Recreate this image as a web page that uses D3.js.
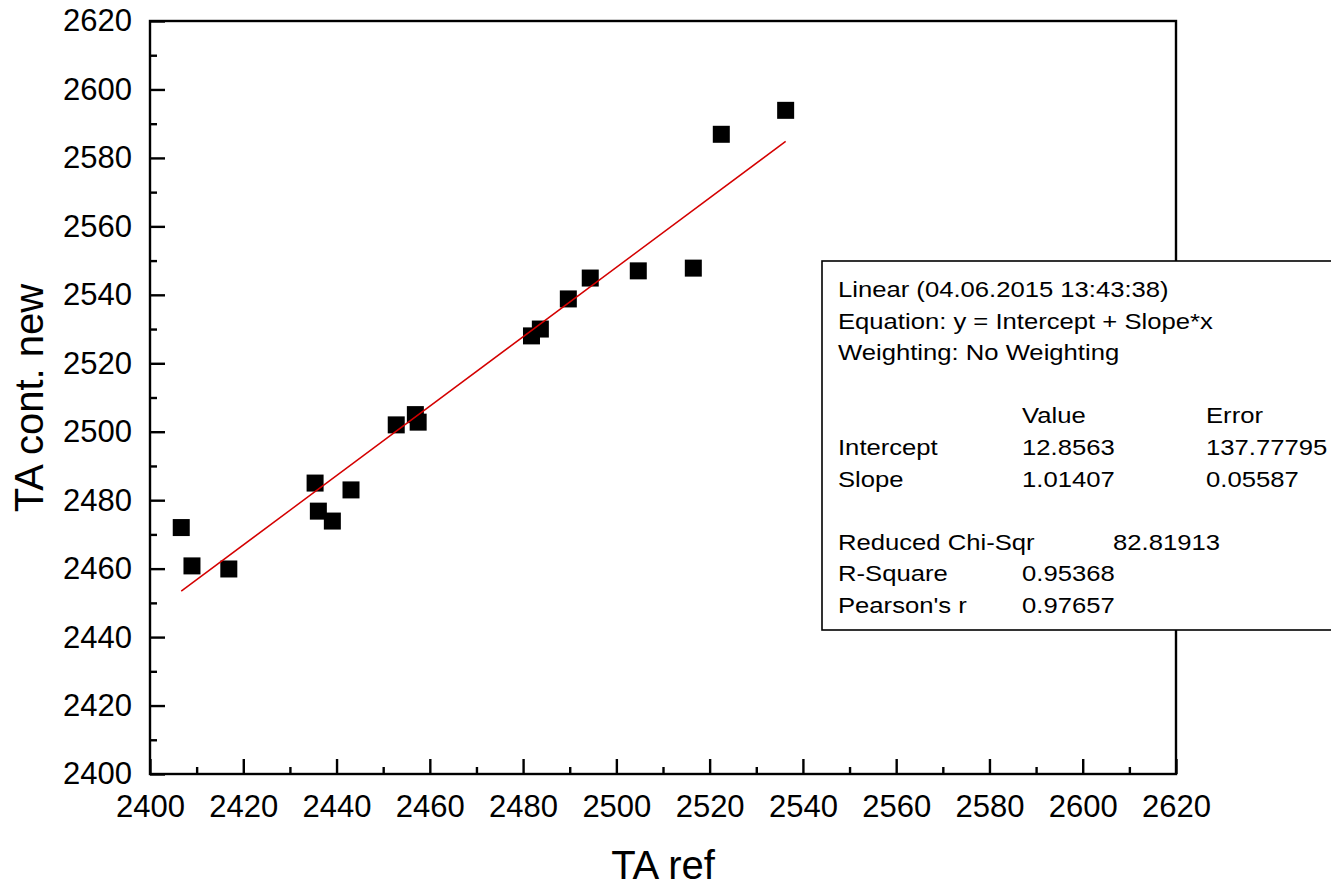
<!DOCTYPE html>
<html>
<head>
<meta charset="utf-8">
<script src="https://cdn.jsdelivr.net/npm/d3@7"></script>
<style>
  body { margin: 0; background: #fff; }
  svg text { font-family: Arial, "Liberation Sans", sans-serif; fill: #000; }
</style>
</head>
<body>
<div id="chart"></div>
<script>
// measured points (TA ref vs TA cont. new)
var taRef = [2406.7, 2409.0, 2416.9, 2435.4, 2436.1, 2439.1, 2443.1, 2452.8, 2456.9, 2457.5,
             2481.8, 2483.7, 2489.7, 2494.4, 2504.7, 2516.5, 2522.5, 2536.3];
var taContNew = [2472.0, 2460.8, 2459.9, 2485.0, 2476.8, 2473.9, 2483.0, 2502.0, 2505.0, 2502.8,
                 2528.0, 2530.0, 2538.8, 2544.9, 2547.0, 2547.8, 2586.9, 2593.9];

var xMajor = [2400, 2420, 2440, 2460, 2480, 2500, 2520, 2540, 2560, 2580, 2600, 2620];
var yMajor = [2400, 2420, 2440, 2460, 2480, 2500, 2520, 2540, 2560, 2580, 2600, 2620];
var xMinor = [2410, 2430, 2450, 2470, 2490, 2510, 2530, 2550, 2570, 2590, 2610];
var yMinor = [2410, 2430, 2450, 2470, 2490, 2510, 2530, 2550, 2570, 2590, 2610];

var fitIntercept = 12.8563, fitSlope = 1.01407;

// fit report rows: [label, value, error]
var reportHead = ["Linear (04.06.2015 13:43:38)", "Equation: y = Intercept + Slope*x", "Weighting: No Weighting"];
var reportRows = [["", "Value", "Error"], ["Intercept", "12.8563", "137.77795"], ["Slope", "1.01407", "0.05587"]];
var reportStats = [["Reduced Chi-Sqr", "", "82.81913"], ["R-Square", "0.95368", ""], ["Pearson's r", "0.97657", ""]];

var W = 1331, H = 883;
var plotL = 150, plotR = 1176, plotT = 21, plotB = 774;

var svg = d3.select("#chart").append("svg")
  .attr("width", W)
  .attr("height", H);

var x = d3.scaleLinear().domain([2400, 2620]).range([plotL, plotR]);
var y = d3.scaleLinear().domain([2400, 2620]).range([plotB, plotT]);

// frame
svg.append("rect")
  .attr("x", plotL).attr("y", plotT)
  .attr("width", plotR - plotL).attr("height", plotB - plotT)
  .attr("fill", "none").attr("stroke", "#000").attr("stroke-width", 2.4);

// x axis major + labels
var gx = svg.append("g")
  .attr("transform", "translate(0," + plotB + ")")
  .call(d3.axisBottom(x).tickValues(xMajor).tickSize(-15).tickPadding(21).tickFormat(d3.format("d")));
gx.select(".domain").remove();
gx.selectAll("line").attr("stroke", "#000").attr("stroke-width", 2.4);
gx.selectAll("text").style("font-size", "31px");

var gxm = svg.append("g")
  .attr("transform", "translate(0," + plotB + ")")
  .call(d3.axisBottom(x).tickValues(xMinor).tickSize(-7).tickFormat(""));
gxm.select(".domain").remove();
gxm.selectAll("line").attr("stroke", "#000").attr("stroke-width", 2.4);

// y axis
var gy = svg.append("g")
  .attr("transform", "translate(" + plotL + ",0)")
  .call(d3.axisLeft(y).tickValues(yMajor).tickSize(-15).tickPadding(18).tickFormat(d3.format("d")));
gy.select(".domain").remove();
gy.selectAll("line").attr("stroke", "#000").attr("stroke-width", 2.4);
gy.selectAll("text").style("font-size", "31px");

var gym = svg.append("g")
  .attr("transform", "translate(" + plotL + ",0)")
  .call(d3.axisLeft(y).tickValues(yMinor).tickSize(-7).tickFormat(""));
gym.select(".domain").remove();
gym.selectAll("line").attr("stroke", "#000").attr("stroke-width", 2.4);

// axis titles
svg.append("text")
  .attr("x", 663)
  .attr("y", 879)
  .attr("text-anchor", "middle")
  .style("font-size", "40px")
  .text("TA ref");

svg.append("text")
  .attr("transform", "translate(43,398) rotate(-90)")
  .attr("text-anchor", "middle")
  .style("font-size", "40px")
  .text("TA cont. new");

// points
var pts = taRef.map(function (d, i) { return { x: d, y: taContNew[i] }; });
var size = 17;
svg.append("g").selectAll("rect")
  .data(pts)
  .enter()
  .append("rect")
  .attr("x", function (d) { return x(d.x) - size / 2; })
  .attr("y", function (d) { return y(d.y) - size / 2; })
  .attr("width", size)
  .attr("height", size)
  .attr("fill", "#000");

// linear fit over data range
var xMin = d3.min(taRef), xMax = d3.max(taRef);
svg.append("line")
  .attr("x1", x(xMin)).attr("y1", y(fitIntercept + fitSlope * xMin))
  .attr("x2", x(xMax)).attr("y2", y(fitIntercept + fitSlope * xMax))
  .attr("stroke", "#d40000")
  .attr("stroke-width", 1.5);

// fit report box (runs off the right edge)
var bx = 822, by = 261, bh = 369;
svg.append("rect")
  .attr("x", bx).attr("y", by)
  .attr("width", 600).attr("height", bh)
  .attr("fill", "#fff").attr("stroke", "#000").attr("stroke-width", 1.6);

var lineH = 31.6, base0 = 297;
var colX = [838, 1022, 1206];
var statX = [838, 1022, 1113];

function boxText(tx, ty, s) {
  if (!s) return;
  svg.append("text")
    .attr("transform", "translate(" + tx + "," + ty + ") scale(1.14,1)")
    .style("font-size", "22.5px")
    .text(s);
}

reportHead.forEach(function (s, i) { boxText(colX[0], base0 + i * lineH, s); });
reportRows.forEach(function (r, i) {
  r.forEach(function (s, j) { boxText(colX[j], base0 + (i + 4) * lineH, s); });
});
reportStats.forEach(function (r, i) {
  r.forEach(function (s, j) { boxText(statX[j], base0 + (i + 8) * lineH, s); });
});
</script>
</body>
</html>
